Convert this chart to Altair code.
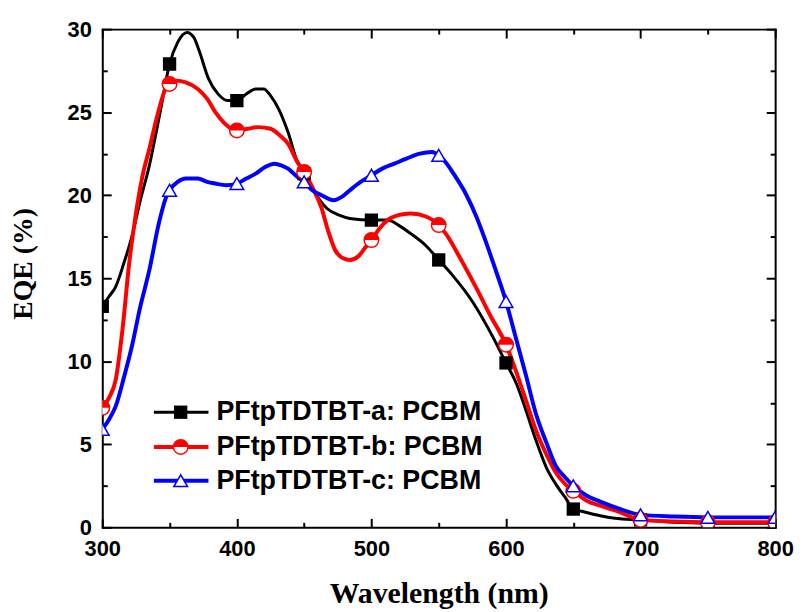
import altair as alt
import pandas as pd

names = ["PFtpTDTBT-a: PCBM", "PFtpTDTBT-b: PCBM", "PFtpTDTBT-c: PCBM"]
colors = ["#000000", "#ff0000", "#0000ff"]

# marker points (every 50 nm)
marker_wl = [300, 350, 400, 450, 500, 550, 600, 650, 700, 750, 800]
a_marker = [13.3, 27.9, 25.7, 21.3, 18.5, 16.1, 9.9, 1.1, 0.45, 0.25, 0.25]
b_marker = [7.2, 26.7, 23.9, 21.4, 17.3, 18.2, 11.0, 2.2, 0.45, 0.3, 0.3]
c_marker = [5.9, 20.3, 20.7, 20.8, 21.2, 22.4, 13.6, 2.5, 0.75, 0.6, 0.6]

# smooth curves
a_wl = [300, 305, 310, 316, 322, 328, 335, 343, 350, 356, 363, 368, 372, 379, 386, 393, 400,
        407, 414, 420, 425, 431, 438, 445, 450, 456, 467, 476, 484, 500, 512, 520, 529, 540,
        550, 560, 575, 590, 600, 608, 615, 622, 630, 637, 644, 650, 657, 670, 681, 700, 725,
        750, 775, 800]
a_val = [13.3, 13.9, 14.5, 15.9, 17.5, 19.6, 21.8, 25.0, 27.9, 29.2, 29.8, 29.5, 28.7, 27.0,
         26.1, 25.7, 25.7, 26.1, 26.4, 26.4, 26.0, 25.2, 23.8, 22.0, 21.3, 20.4, 19.2, 18.8,
         18.6, 18.5, 18.5, 18.2, 17.7, 17.0, 16.1, 15.2, 13.6, 11.5, 9.9, 8.6, 7.0, 5.3, 3.6,
         2.6, 1.8, 1.1, 0.95, 0.7, 0.55, 0.45, 0.3, 0.25, 0.25, 0.25]

b_wl = [300, 305, 310, 315, 320, 325, 330, 335, 340, 347, 350, 355, 362, 371, 378, 384, 390,
        396, 400, 408, 416, 425, 432, 438, 445, 450, 456, 463, 468, 473, 479, 484, 490, 495,
        500, 506, 512, 520, 529, 541, 550, 556, 566, 578, 588, 600, 607, 615, 622, 630, 637,
        644, 650, 660, 670, 685, 700, 725, 750, 775, 800]
b_val = [7.2, 7.8, 8.9, 11.9, 15.9, 18.9, 21.2, 22.8, 24.5, 26.4, 26.7, 26.9, 26.8, 26.4,
         25.8, 25.0, 24.4, 24.0, 23.9, 24.0, 24.1, 24.0, 23.6, 23.1, 22.0, 21.4, 20.5, 19.2,
         17.8, 16.7, 16.2, 16.1, 16.3, 16.8, 17.3, 18.0, 18.5, 18.8, 18.9, 18.7, 18.2, 17.6,
         16.2, 14.4, 12.8, 11.0, 9.5, 7.6, 5.9, 4.4, 3.3, 2.6, 2.2, 1.6, 1.3, 0.9, 0.45, 0.35,
         0.3, 0.3, 0.3]

c_wl = [300, 305, 310, 316, 322, 328, 335, 342, 348, 350, 356, 362, 371, 378, 384, 392, 400,
        407, 414, 421, 428, 433, 438, 445, 450, 456, 463, 472, 478, 484, 492, 500, 508, 517,
        526, 536, 545, 550, 555, 561, 570, 578, 585, 591, 600, 607, 615, 622, 630, 637, 644,
        650, 660, 670, 685, 700, 725, 750, 775, 800]
c_val = [5.9, 6.5, 7.3, 9.0, 10.9, 13.2, 15.5, 18.3, 20.0, 20.3, 20.8, 21.0, 21.0, 20.8,
         20.7, 20.6, 20.7, 21.0, 21.3, 21.7, 21.9, 21.8, 21.6, 21.1, 20.8, 20.3, 20.0, 19.7,
         19.9, 20.3, 20.8, 21.2, 21.6, 21.9, 22.2, 22.5, 22.6, 22.4, 22.0, 21.3, 20.1, 18.7,
         17.2, 15.8, 13.6, 11.5, 9.1, 6.9, 5.1, 3.7, 3.0, 2.5, 1.9, 1.55, 1.1, 0.75, 0.65,
         0.6, 0.6, 0.6]

x_tick_vals = list(range(300, 801, 50))
x_label_vals = list(range(300, 801, 100))
y_tick_vals = [i * 2.5 for i in range(13)]
y_label_vals = list(range(0, 31, 5))

W, H = 678, 502
xs = alt.Scale(domain=[300, 800], nice=False, zero=False)
ys = alt.Scale(domain=[0, 30], nice=False, zero=False)

LABEL_FONT = "Liberation Sans"
TITLE_FONT = "Liberation Serif"

tick_common = dict(labels=False, domain=True, domainColor="black", domainWidth=2,
                   domainCap="square", tickColor="black", tickWidth=2, grid=False, title="")

x_tick_size = {"condition": {"test": "datum.value % 100 === 0", "value": 9}, "value": 5}
y_tick_size = {"condition": {"test": "datum.value % 5 === 0", "value": 9}, "value": 5}

ax_x_label = alt.Axis(orient="bottom", values=x_label_vals, ticks=False, tickSize=0, domain=False,
                      grid=False, format="d", labelFont=LABEL_FONT, labelFontWeight="bold",
                      labelFontSize=22, labelColor="black", labelPadding=11, labelFlush=False,
                      labelOverlap=False, title="Wavelength (nm)", titleFont=TITLE_FONT,
                      titleFontSize=30, titleFontWeight="bold", titleColor="black",
                      titlePadding=20)
ax_y_label = alt.Axis(orient="left", values=y_label_vals, ticks=False, tickSize=0, domain=False,
                      grid=False, format="d", labelFont=LABEL_FONT, labelFontWeight="bold",
                      labelFontSize=22, labelColor="black", labelPadding=11, labelFlush=False,
                      labelOverlap=False, title="EQE (%)", titleFont=TITLE_FONT,
                      titleFontSize=28, titleFontWeight="bold", titleColor="black",
                      titlePadding=30, titleY=236)
ax_x_bottom = alt.Axis(orient="top", offset=-H, values=x_tick_vals, tickSize=x_tick_size, **tick_common)
ax_x_top = alt.Axis(orient="bottom", offset=-H, values=x_tick_vals, tickSize=x_tick_size, **tick_common)
ax_y_left = alt.Axis(orient="right", offset=-W, values=y_tick_vals, tickSize=y_tick_size, **tick_common)
ax_y_right = alt.Axis(orient="left", offset=-W, values=y_tick_vals, tickSize=y_tick_size, **tick_common)


def line_layer(wl, val, color, width, xaxis, yaxis):
    df = pd.DataFrame({"wl": wl, "eqe": val})
    return alt.Chart(df).mark_line(color=color, strokeWidth=width, interpolate="monotone",
                                   clip=True).encode(
        x=alt.X("wl:Q", scale=xs, axis=xaxis),
        y=alt.Y("eqe:Q", scale=ys, axis=yaxis),
    )


def point_layer(val, **mark):
    df = pd.DataFrame({"wl": marker_wl, "eqe": val})
    return alt.Chart(df).mark_point(clip=True, opacity=1, **mark).encode(
        x=alt.X("wl:Q", scale=xs, axis=None),
        y=alt.Y("eqe:Q", scale=ys, axis=None),
    )


HALF_TOP = "M -1 0 A 1 1 0 0 1 1 0 Z"

sq = dict(shape="square", filled=True, fill="black", stroke="black", strokeWidth=0, size=180)
circ = dict(shape="circle", filled=True, fill="white", stroke="red", strokeWidth=1.5, size=215)
half = dict(shape=HALF_TOP, filled=True, fill="red", strokeWidth=0, size=215)
tri = dict(shape="triangle-up", filled=True, fill="white", stroke="blue", strokeWidth=1.5, size=190)

layers = [
    line_layer(a_wl, a_val, colors[0], 3, ax_x_label, ax_y_label),
    line_layer(b_wl, b_val, colors[1], 4, ax_x_bottom, ax_y_left),
    line_layer(c_wl, c_val, colors[2], 4, ax_x_top, ax_y_right),
    point_layer(a_marker, **sq),
    point_layer(b_marker, **circ),
    point_layer(b_marker, **half),
    point_layer(c_marker, **tri),
]

# legend drawn inside the plot (pixel layout)
legend_rows = [386, 421, 455]
one = pd.DataFrame({"k": [0]})
widths = [3, 4, 4]
marker_sets = [[sq], [circ, half], [tri]]
for i, name in enumerate(names):
    ly = legend_rows[i]
    layers.append(alt.Chart(one).mark_rule(color=colors[i], strokeWidth=widths[i]).encode(
        x=alt.value(52), x2=alt.value(107), y=alt.value(ly)))
    for m in marker_sets[i]:
        layers.append(alt.Chart(one).mark_point(opacity=1, **m).encode(
            x=alt.value(79), y=alt.value(ly)))
    layers.append(alt.Chart(one).mark_text(align="left", baseline="middle", font=LABEL_FONT,
                                           fontWeight="bold", fontSize=27, color="black").encode(
        x=alt.value(115), y=alt.value(ly), text=alt.value(name)))

chart = alt.layer(*layers).resolve_axis(x="independent", y="independent").properties(
    width=W, height=H,
    autosize=alt.AutoSizeParams(type="none"),
    padding={"left": 95, "top": 19, "right": 20, "bottom": 80},
).configure_view(strokeWidth=0)

chart.save("out.html", embed_options={"renderer": "svg", "actions": False})
